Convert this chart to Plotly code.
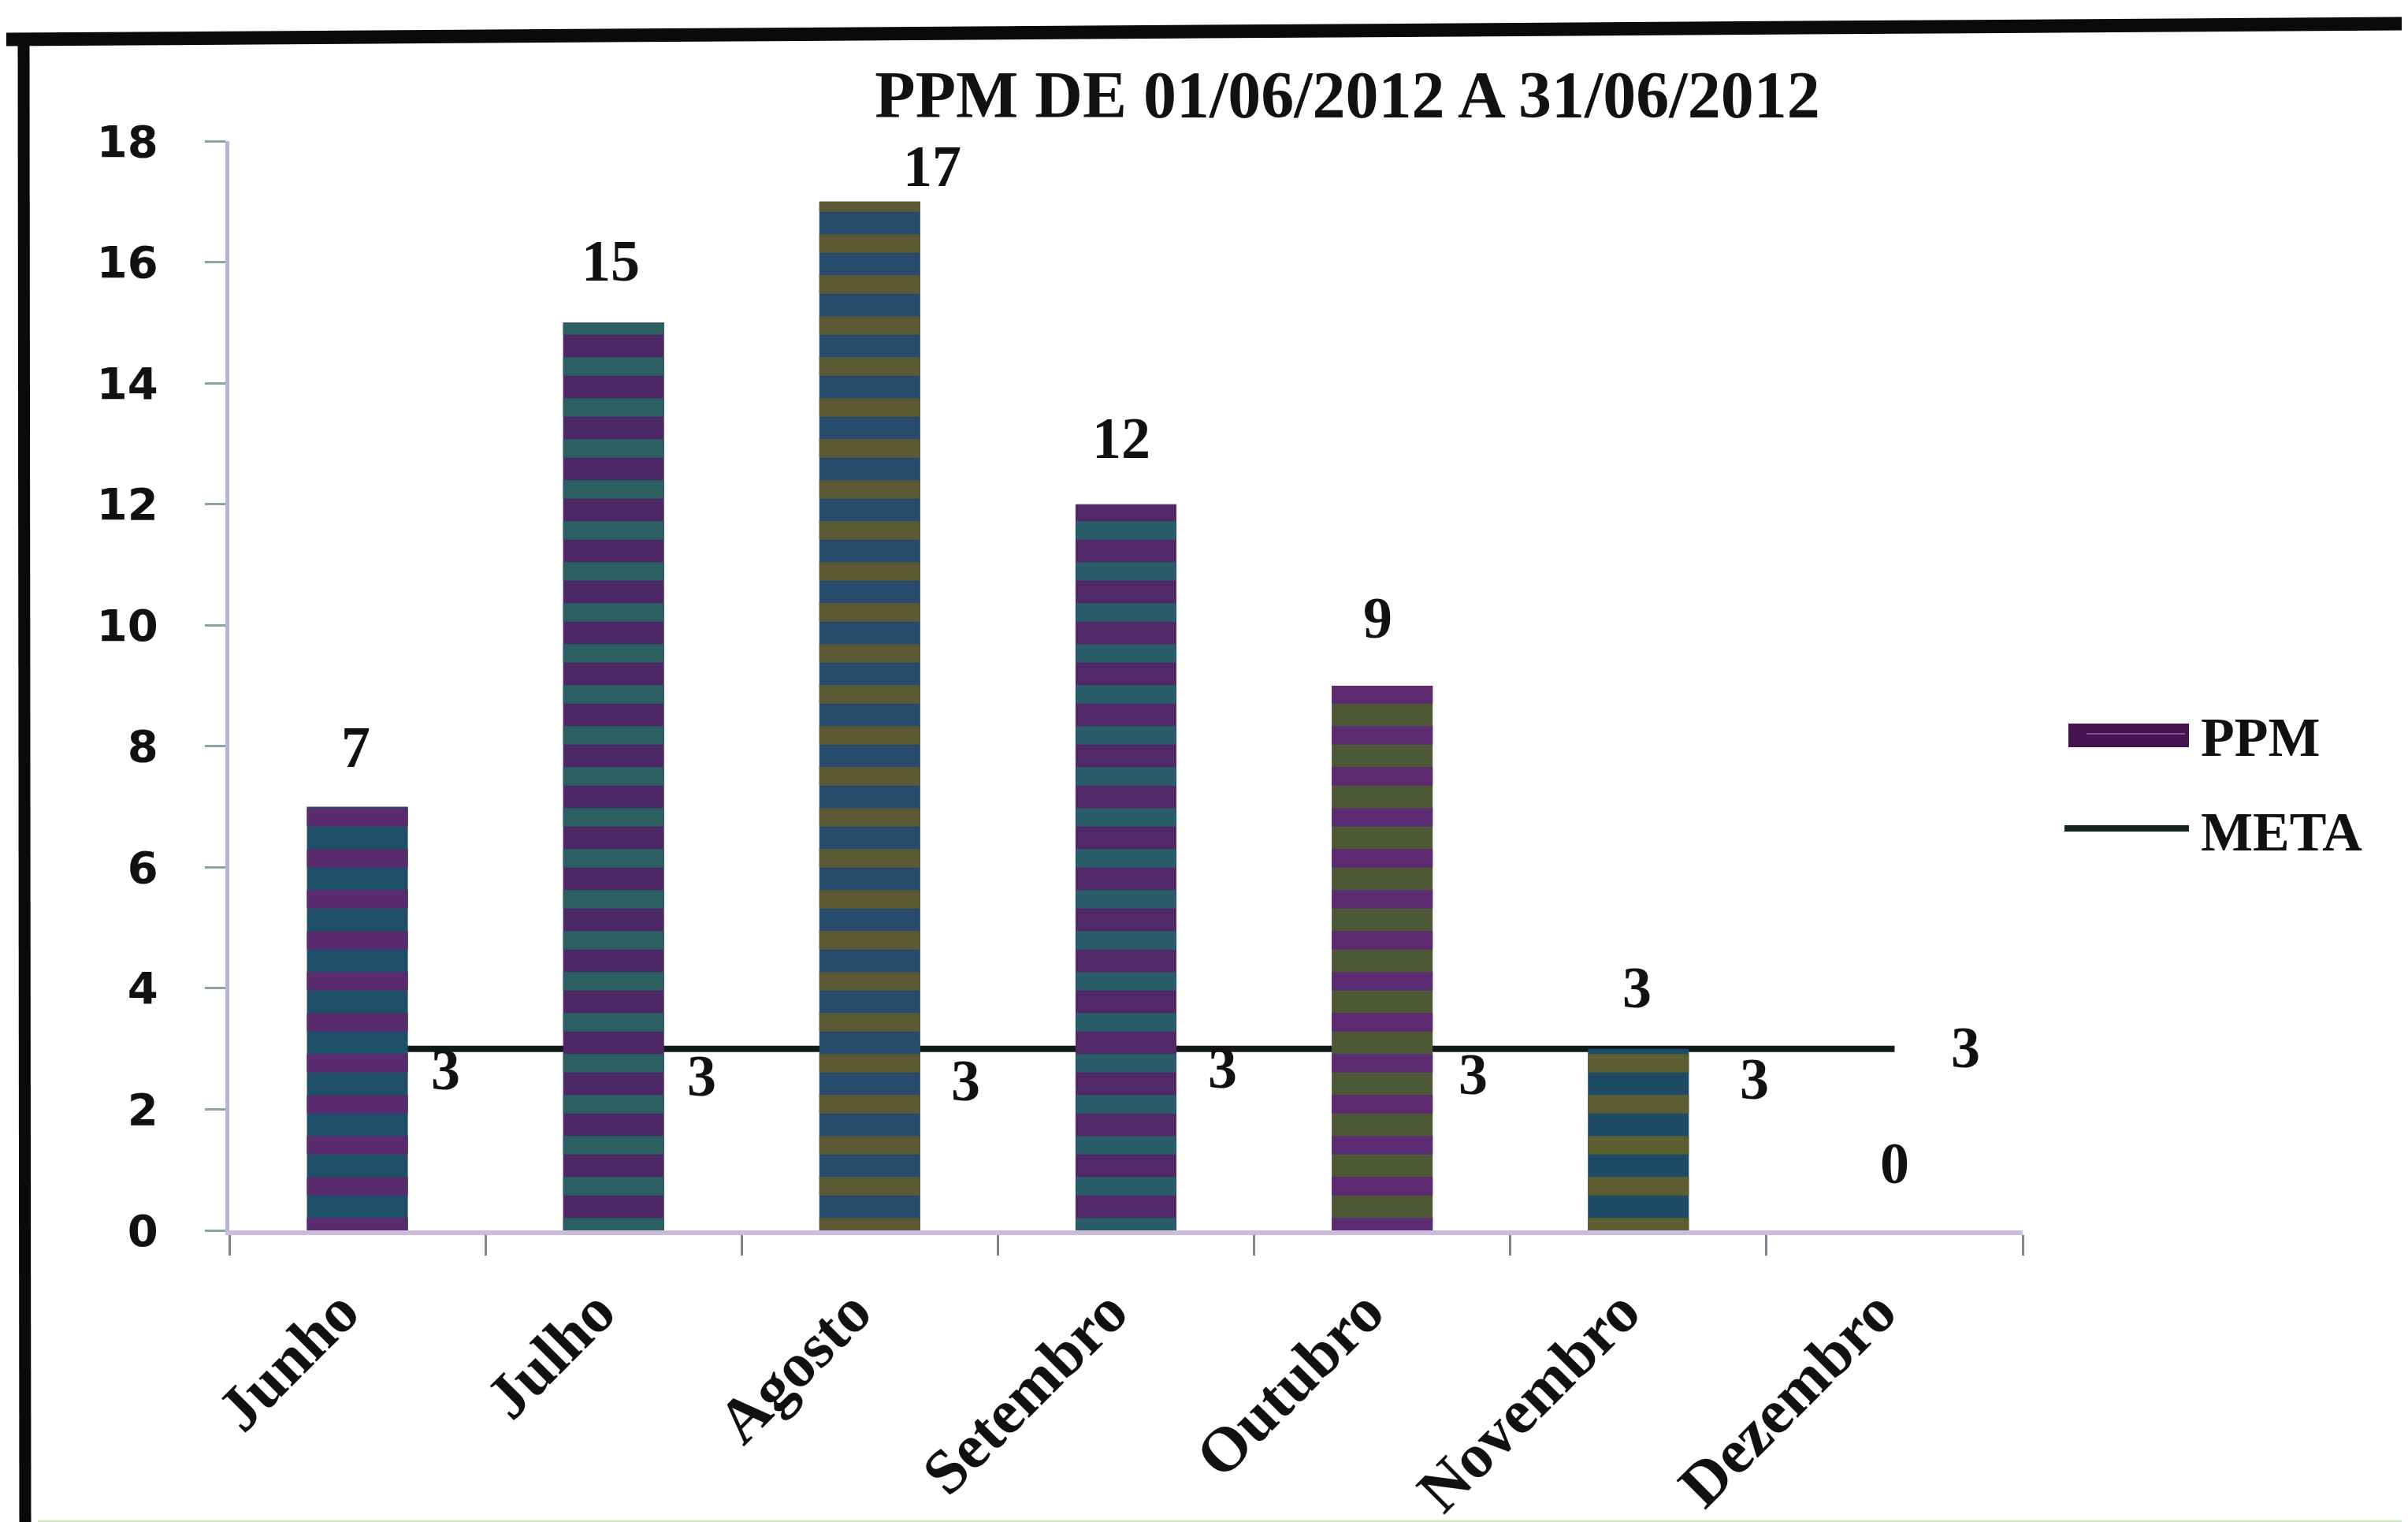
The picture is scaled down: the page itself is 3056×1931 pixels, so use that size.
import plotly.graph_objects as go

# ---------------- data ----------------
months = ["Junho", "Julho", "Agosto", "Setembro", "Outubro", "Novembro", "Dezembro"]
ppm = [7, 15, 17, 12, 9, 3, 0]
meta = [3, 3, 3, 3, 3, 3, 3]
y_tick_values = [0, 2, 4, 6, 8, 10, 12, 14, 16, 18]
title_text = "PPM DE 01/06/2012 A 31/06/2012"
series_names = ["PPM", "META"]

# ---------------- styling ----------------
W, H = 3056, 1931
ML, MR, MT, MB = 283, 497, 171, 378
PW, PH = W - ML - MR, H - MT - MB

SERIF = "Liberation Serif, Times New Roman, serif"
SANS = "DejaVu Sans, Verdana, sans-serif"

bar_bg = ["#1f4f68", "#4c2866", "#274b6a", "#522868", "#4d5834", "#1d4a64", "#3a3a5a"]
bar_fg = ["#5a2a6e", "#2b5f62", "#5c5a32", "#2a5c6a", "#5c2a70", "#5c5e32", "#6a2c7a"]

# label offsets (pixels) – style only
bar_lbl_dx = [-2, -4, 79, -6, -6, -2, 0]
bar_lbl_dy = [76, 78, 45, 84, 86, 78, 85]
meta_lbl_dx = [112, 112, 122, 122, 115, 147, 90]
meta_lbl_dy = [-26, -34, -40, -24, -32, -38, 2]


def px(x):
    return (x - ML) / PW


def py(y):
    return (H - MB - y) / PH


fig = go.Figure()

# META line on base axis (drawn below), bars on overlaying axis (drawn on top)
fig.add_trace(go.Scatter(
    x=months, y=meta, name=series_names[1], mode="lines",
    line=dict(color="#111a16", width=8),
    showlegend=False, yaxis="y",
))

# solid bar body
fig.add_trace(go.Bar(
    x=months, y=ppm, name=series_names[0],
    marker=dict(color=bar_bg, line=dict(width=0)),
    showlegend=False, yaxis="y2", hoverinfo="skip",
))
# striped texture over the same bars
fig.add_trace(go.Bar(
    x=months, y=ppm, name=series_names[0],
    marker=dict(
        color=bar_fg,
        line=dict(width=0),
        pattern=dict(shape="-", fillmode="replace", bgcolor="rgba(0,0,0,0)",
                     fgopacity=1, size=52, solidity=0.45),
    ),
    showlegend=False, yaxis="y2",
))

annotations = []
for i, (m, v) in enumerate(zip(months, ppm)):
    annotations.append(dict(
        x=m, y=v, text=str(v), showarrow=False,
        xanchor="center", yanchor="middle",
        xshift=bar_lbl_dx[i], yshift=bar_lbl_dy[i],
        font=dict(family=SERIF, size=74, color="#111111", weight="bold"),
    ))
for i, (m, v) in enumerate(zip(months, meta)):
    annotations.append(dict(
        x=m, y=v, text=str(v), showarrow=False,
        xanchor="center", yanchor="middle",
        xshift=meta_lbl_dx[i], yshift=meta_lbl_dy[i],
        font=dict(family=SERIF, size=74, color="#111111", weight="bold"),
    ))

# legend (drawn manually to match the large swatches)
annotations.append(dict(
    xref="paper", yref="paper", x=px(2783), y=py(927), text=series_names[0],
    showarrow=False, xanchor="left", yanchor="middle",
    font=dict(family=SERIF, size=70, color="#111111", weight="bold"),
))
annotations.append(dict(
    xref="paper", yref="paper", x=px(2783), y=py(1047), text=series_names[1],
    showarrow=False, xanchor="left", yanchor="middle",
    font=dict(family=SERIF, size=70, color="#111111", weight="bold"),
))

shapes = [
    # legend swatches
    dict(type="rect", xref="paper", yref="paper",
         x0=px(2617), x1=px(2770), y0=py(940), y1=py(910),
         fillcolor="#45124f", line=dict(width=0)),
    dict(type="line", xref="paper", yref="paper",
         x0=px(2640), x1=px(2765), y0=py(923), y1=py(923),
         line=dict(color="#8a4a9a", width=2)),
    dict(type="line", xref="paper", yref="paper",
         x0=px(2612), x1=px(2770), y0=py(1043), y1=py(1043),
         line=dict(color="#10281c", width=8)),
    # scanned frame border
    dict(type="line", xref="paper", yref="paper",
         x0=px(0), x1=px(W), y0=py(42), y1=py(22),
         line=dict(color="#0a0a0a", width=17)),
    dict(type="line", xref="paper", yref="paper",
         x0=px(22), x1=px(24), y0=py(34), y1=py(H),
         line=dict(color="#0a0a0a", width=15)),
    dict(type="line", xref="paper", yref="paper",
         x0=px(40), x1=px(W), y0=py(1924), y1=py(1924),
         line=dict(color="#d3e8c2", width=7)),
]

fig.update_layout(
    width=W, height=H,
    margin=dict(l=ML, r=MR, t=MT, b=MB, autoexpand=False),
    paper_bgcolor="white", plot_bgcolor="white",
    barmode="overlay",
    bargap=0.606,
    title=dict(
        text=title_text, x=1702 / W, xanchor="center", xref="container",
        y=1 - 112 / H, yanchor="middle", yref="container",
        font=dict(family=SERIF, size=84, color="#111111", weight="bold"),
    ),
    annotations=annotations,
    shapes=shapes,
    showlegend=False,
    xaxis=dict(
        range=[-0.5, 6.5], showgrid=False, zeroline=False, automargin=False,
        showline=True, linecolor="#cbbcdc", linewidth=6,
        ticks="outside", tickson="boundaries", ticklen=26, tickwidth=3, tickcolor="#7d858f",
        tickangle=-45, ticklabelstandoff=18, ticklabelshift=-22,
        tickfont=dict(family=SERIF, size=80, color="#111111", weight="bold"),
    ),
    yaxis=dict(
        range=[0, 18], tickvals=y_tick_values, showgrid=False, zeroline=False,
        automargin=False,
        showline=True, linecolor="#bab4d6", linewidth=5,
        ticks="outside", ticklen=26, tickwidth=3, tickcolor="#8aa2aa",
        ticklabelstandoff=48,
        tickfont=dict(family=SANS, size=56, color="#111111", weight="bold"),
    ),
    yaxis2=dict(
        range=[0, 18], overlaying="y", visible=False, showgrid=False,
        zeroline=False, automargin=False,
    ),
)

fig.write_html("out.html")
